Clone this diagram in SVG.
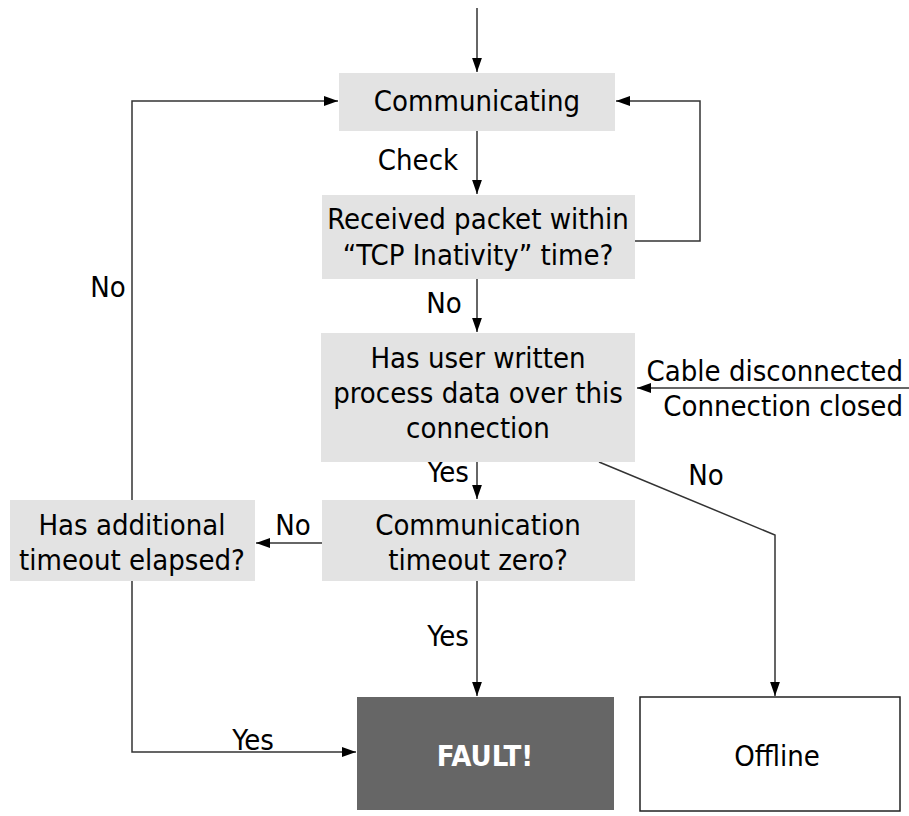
<svg xmlns="http://www.w3.org/2000/svg" width="909" height="816" viewBox="0 0 909 816">
<defs>
<marker id="arr" viewBox="0 0 10 10" refX="10" refY="5" markerWidth="14" markerHeight="14" markerUnits="userSpaceOnUse" orient="auto">
<path d="M0,1.5 L10,5 L0,8.5 Z" fill="#000"/>
</marker>
<style>
text{font-family:"DejaVu Sans Condensed","DejaVu Sans",sans-serif;font-stretch:condensed;font-size:29px;fill:#000}
.c{text-anchor:middle}
.e{text-anchor:end}
.box{fill:#e3e3e3}
.ln{fill:none;stroke:#333;stroke-width:1.5}
.ar{marker-end:url(#arr)}
</style>
</defs>
<rect width="909" height="816" fill="#fff"/>
<g id="connectors">
<path class="ln ar" d="M477,8 V72"/>
<path class="ln ar" d="M477,131 V194"/>
<path class="ln ar" d="M635,241 H700 V101 H616"/>
<path class="ln ar" d="M477,279 V332"/>
<path class="ln ar" d="M909,388 H637"/>
<path class="ln ar" d="M477,462 V499"/>
<path class="ln ar" d="M599,462 L775,535 V696"/>
<path class="ln ar" d="M322,543 H256"/>
<path class="ln ar" d="M132,500 V101 H338"/>
<path class="ln ar" d="M477,581 V696"/>
<path class="ln ar" d="M132,581 V752 H356"/>
<text class="c" x="418" y="170">Check</text>
<text class="c" x="444" y="313">No</text>
<text class="c" x="448" y="482">Yes</text>
<text class="c" x="706" y="485">No</text>
<text class="c" x="293" y="535">No</text>
<text class="c" x="108" y="297">No</text>
<text class="c" x="448" y="646">Yes</text>
<text class="c" x="253" y="750">Yes</text>
<text class="e" x="903" y="381">Cable disconnected</text>
<text class="e" x="903" y="416">Connection closed</text>
</g>
<g id="communicating">
<rect class="box" x="339" y="73" width="276" height="58"/>
<text class="c" x="477" y="111">Communicating</text>
</g>
<g id="received">
<rect class="box" x="322" y="195" width="313" height="84"/>
<text class="c" x="478" y="229">Received packet within</text>
<text class="c" x="478" y="265">“TCP Inativity” time?</text>
</g>
<g id="userwritten">
<rect class="box" x="321" y="333" width="314" height="129"/>
<text class="c" x="478" y="368">Has user written</text>
<text class="c" x="478" y="403">process data over this</text>
<text class="c" x="478" y="438">connection</text>
</g>
<g id="additional">
<rect class="box" x="10" y="500" width="245" height="81"/>
<text class="c" x="132" y="535">Has additional</text>
<text class="c" x="132" y="570">timeout elapsed?</text>
</g>
<g id="timeoutzero">
<rect class="box" x="322" y="500" width="313" height="81"/>
<text class="c" x="478" y="535">Communication</text>
<text class="c" x="478" y="570">timeout zero?</text>
</g>
<g id="fault">
<rect x="357" y="697" width="257" height="113" fill="#666"/>
<text class="c" x="485" y="766" style="fill:#fff;font-weight:bold">FAULT!</text>
</g>
<g id="offline">
<rect x="640" y="697" width="260" height="114" fill="#fff" stroke="#222" stroke-width="1.5"/>
<text class="c" x="777" y="766">Offline</text>
</g>
</svg>
